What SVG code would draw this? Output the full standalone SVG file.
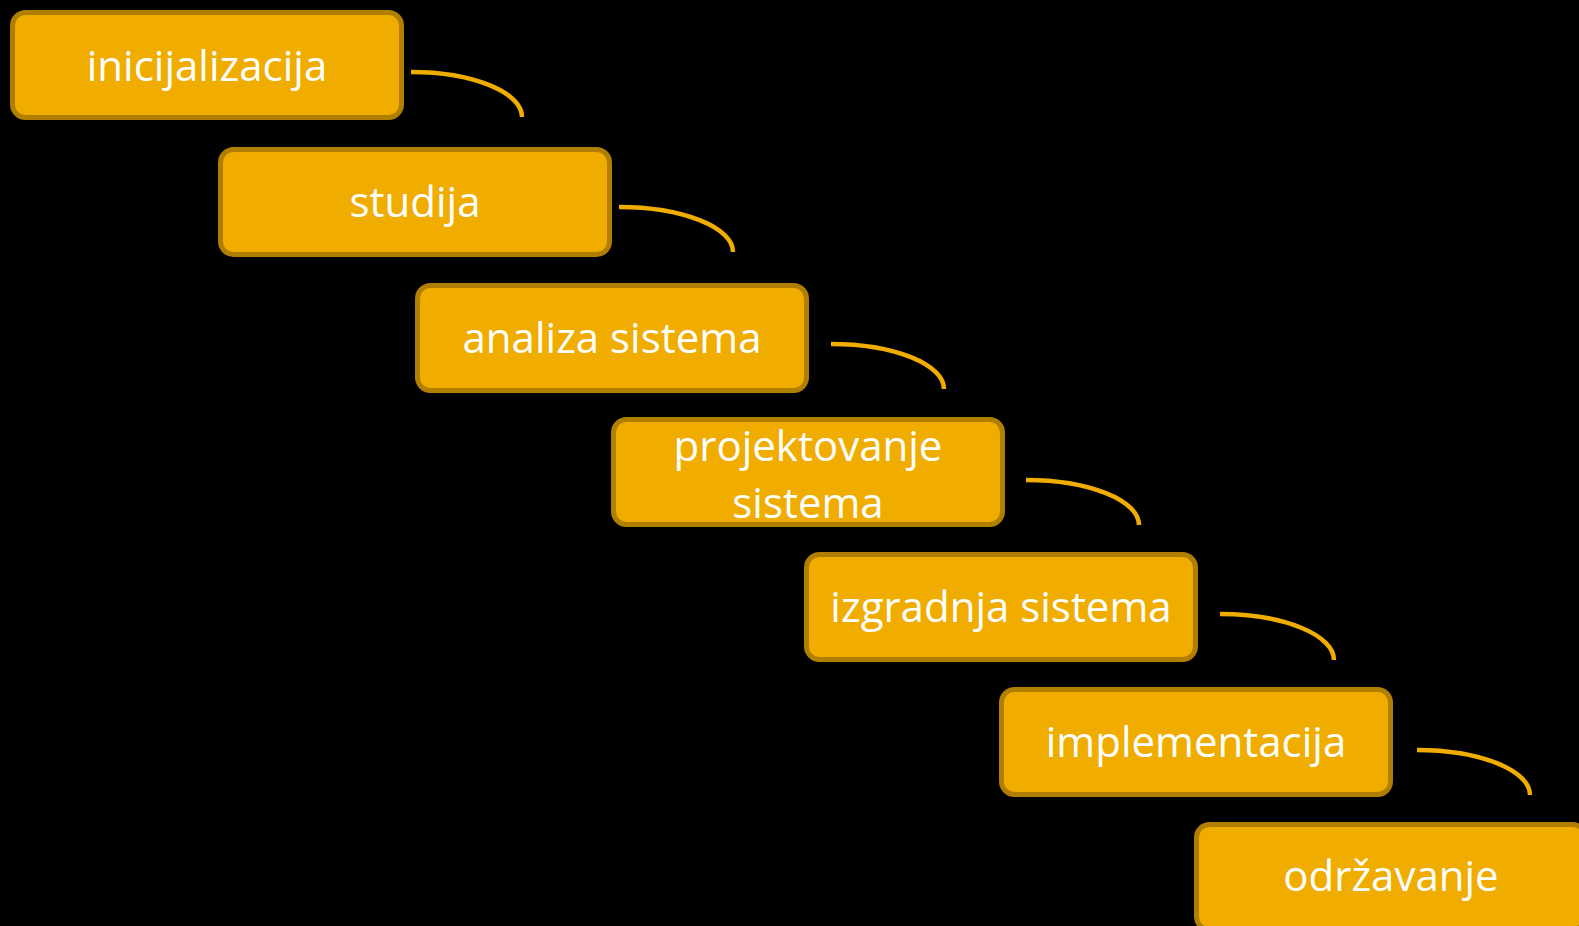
<svg xmlns="http://www.w3.org/2000/svg" width="1579" height="926" viewBox="0 0 1579 926">
<style>
.box{fill:#F0AD00;stroke:#B07F00;stroke-width:5}
.lbl{fill:#FFFFFF;font-family:"Open Sans","Noto Sans",sans-serif;font-size:42px;text-anchor:middle}
.con{fill:none;stroke:#F0AD00;stroke-width:4.5}
</style>
<rect width="1579" height="926" fill="#000000"/>
<g id="connectors">
<path class="con" d="M411,72 A111,45 0 0 1 522,117"/>
<path class="con" d="M619,207 A114,45 0 0 1 733,252"/>
<path class="con" d="M831,344 A113,45 0 0 1 944,389"/>
<path class="con" d="M1026,480 A113,45 0 0 1 1139,525"/>
<path class="con" d="M1220,614 A114,46 0 0 1 1334,660"/>
<path class="con" d="M1417,750 A113,45 0 0 1 1530,795"/>
</g>
<g id="n1"><rect class="box" x="12.5" y="12.5" width="389" height="105" rx="13"/><text class="lbl" x="207" y="81">inicijalizacija</text></g>
<g id="n2"><rect class="box" x="220.5" y="149.5" width="389" height="105" rx="13"/><text class="lbl" x="415" y="217">studija</text></g>
<g id="n3"><rect class="box" x="417.5" y="285.5" width="389" height="105" rx="13"/><text class="lbl" x="612" y="353">analiza sistema</text></g>
<g id="n4"><rect class="box" x="613.5" y="419.5" width="389" height="105" rx="13"/><text class="lbl" x="808" y="461">projektovanje</text><text class="lbl" x="808" y="518">sistema</text></g>
<g id="n5"><rect class="box" x="806.5" y="554.5" width="389" height="105" rx="13"/><text class="lbl" x="1001" y="622">izgradnja sistema</text></g>
<g id="n6"><rect class="box" x="1001.5" y="689.5" width="389" height="105" rx="13"/><text class="lbl" x="1196" y="757">implementacija</text></g>
<g id="n7"><rect class="box" x="1196.5" y="824.5" width="389" height="105" rx="13"/><text class="lbl" x="1391" y="891">održavanje</text></g>
</svg>
